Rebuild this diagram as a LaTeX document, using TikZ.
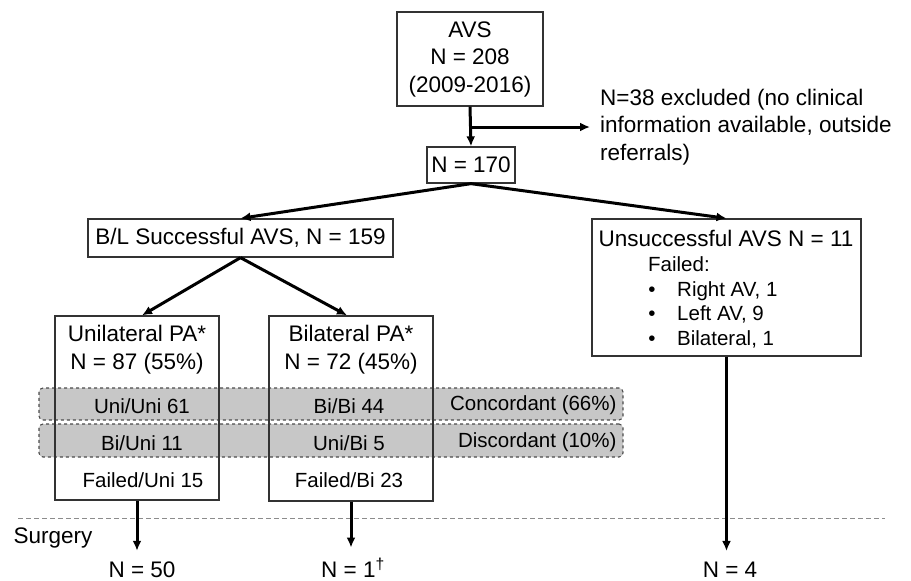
\documentclass[tikz,border=0pt]{standalone}
\usepackage{fontspec}
\setmainfont{Liberation Sans}
\usetikzlibrary{arrows.meta}
\tikzset{
  box/.style={draw=black!80, line width=1.3pt},
  band/.style={draw=black!70, dashed, fill=black!22, rounded corners=4pt, line width=1.1pt},
  arr/.style={-{Latex[length=10pt,width=9pt]}, line width=3pt},
  big/.style={font=\fontsize{22.5}{27.5}\selectfont, align=center},
  small/.style={font=\fontsize{20.5}{25}\selectfont},
}
\begin{document}
\begin{tikzpicture}[x=1pt,y=-1pt]
\useasboundingbox (0,0) rectangle (911,581);

% Bandas
\node[band, minimum width=584pt, minimum height=32pt] (conc) at (331,404) {};
\node[band, minimum width=584pt, minimum height=33pt] (disc) at (331,440.5) {};

% AVS
\node[box, big, minimum width=146pt, minimum height=94pt] (avs) at (470,59) {AVS\\N = 208\\(2009-2016)};
\node[box, big, minimum width=88pt, minimum height=36pt] (n170) at (471,165) {N = 170};

% Excluidos
\node[big, align=left, anchor=west, inner sep=0pt] (excl) at (600,127) {N=38 excluded (no clinical\\information available, outside\\referrals)};
\draw[arr] (avs.south) -- (n170.north);
\draw[arr] (avs.south |- excl.west) -- ([xshift=-10pt]excl.west);

% Exitoso / no exitoso
\node[box, big, minimum width=305pt, minimum height=38pt] (bl) at (240.5,238) {B/L Successful AVS, N = 159};
\node[box, minimum width=269pt, minimum height=137pt] (unsucc) at (726.5,287.5) {};
\node[big] (unsucct) at (726,238) {Unsuccessful AVS N = 11};
\node[small, anchor=base west, inner sep=0pt] (failed) at (648,271) {Failed:};
\foreach \n/\yy/\txt in {right/296/{Right AV, 1}, left/320/{Left AV, 9}, bilat/345/{Bilateral, 1}} {
  \node[small, anchor=base, inner sep=0pt] (dot\n) at (652,\yy) {•};
  \node[small, anchor=base west, inner sep=0pt] (fail\n) at (677,\yy) {\txt};
}
\draw[arr] (n170.south) -- (bl.north);
\draw[arr] (n170.south) -- (unsucc.north);

% Unilateral / bilateral
\node[box, minimum width=164pt, minimum height=184pt] (uni) at (137,408) {};
\node[big] (unit) at (137,349.5) {Unilateral PA*\\N = 87 (55\%)};
\node[box, minimum width=164pt, minimum height=185pt] (bi) at (351,408.5) {};
\node[big] (bit) at (351,349.5) {Bilateral PA*\\N = 72 (45\%)};
\draw[arr] (bl.south) -- ([xshift=5pt]uni.north);
\draw[arr] (bl.south) -- ([xshift=-4pt]bi.north);

% Filas
\node[small] (uniuni) at (142,406) {Uni/Uni 61};
\node[small] (biuni) at (142,443) {Bi/Uni 11};
\node[small] (failuni) at (143,480) {Failed/Uni 15};
\node[small] (bibi) at (349,406) {Bi/Bi 44};
\node[small] (unibi) at (349,443) {Uni/Bi 5};
\node[small] (failbi) at (349,480) {Failed/Bi 23};
\node[small, anchor=east] (conct) at (620,405) {Concordant (66\%)};
\node[small, anchor=east] (disct) at (620,442) {Discordant (10\%)};

% Cirugia
\draw[black!45, dash pattern=on 5pt off 3pt, line width=1pt] (18,518) -- (885,518);
\node[big, anchor=west] (surg) at (10,538) {Surgery};
\node[big, anchor=base] (n50) at (142,577) {N = 50};
\node[big, anchor=base] (n1) at (353,577) {N = 1\textsuperscript{†}};
\node[big, anchor=base] (n4) at (730,577) {N = 4};
\draw[arr, shorten >=7pt] (uni.south) -- (uni.south |- n50.north);
\draw[arr, shorten >=7pt] (bi.south) -- (bi.south |- n1.north);
\draw[arr, shorten >=7pt] (unsucc.south) -- (unsucc.south |- n4.north);

\end{tikzpicture}
\end{document}
